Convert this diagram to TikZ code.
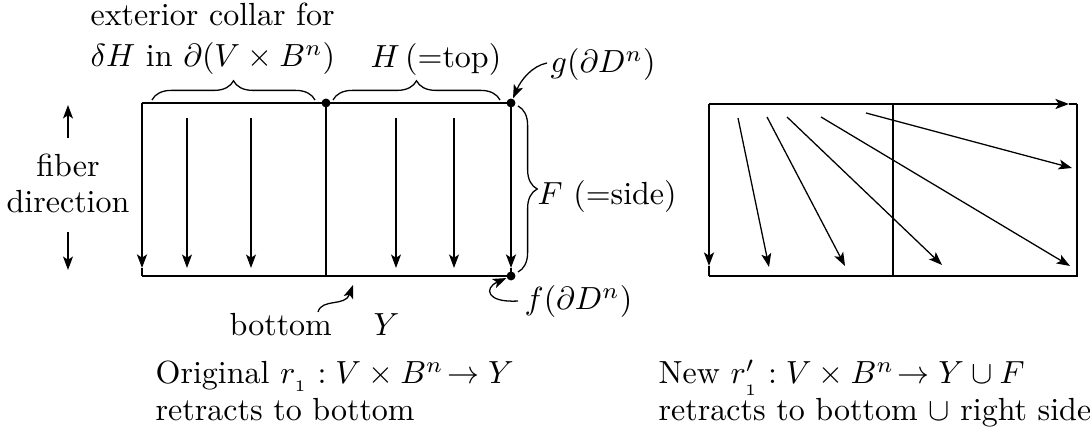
\documentclass[tikz,border=0pt]{standalone}
\usetikzlibrary{arrows.meta,decorations.pathreplacing}
\begin{document}
\begin{tikzpicture}[x=0.3125pt,y=-0.3125pt,
  frame/.style={line width=0.85pt},
  arr/.style={line width=0.4pt,-{Stealth[length=4.2pt,width=3.1pt,inset=1pt]}},
  farr/.style={line width=0.85pt,-{Stealth[length=4.2pt,width=3.1pt,inset=1pt]}},
  dot/.style={circle,fill,inner sep=0pt,minimum size=2.8pt},
  brc/.style={line width=0.4pt,decorate,decoration={brace,amplitude=#1}},
  lbl/.style={inner sep=0pt,anchor=base west}]
\useasboundingbox (0,0) rectangle (1090,439);
% left rectangle
\coordinate (A) at (142,103); \coordinate (B) at (326,103); \coordinate (C) at (511,103);
\coordinate (D) at (142,276); \coordinate (E) at (326,276); \coordinate (G) at (511,276);
\coordinate (Dt) at (142,268); \coordinate (Gt) at (511,268);
\draw[frame] (A) -- (C);
\draw[frame] (D) -- (G);
\draw[frame] (B) -- (E);
\draw[farr] (A) -- (Dt); \draw[frame] (Dt) -- (D);
\draw[farr] (C) -- (Gt); \draw[frame] (Gt) -- (G);
\foreach \x in {187,251,396,454}{
  \coordinate (s\x) at (\x,118); \coordinate (e\x) at (\x,268);
  \draw[arr] (s\x) -- (e\x);
}
\node[dot] (dB) at (B) {};
\node[dot] (dC) at (C) {};
\node[dot] (dG) at (G) {};
% braces
\coordinate (b1a) at (152,100); \coordinate (b1b) at (315,100);
\coordinate (b2a) at (333,100); \coordinate (b2b) at (500,100);
\coordinate (b3a) at (518,106); \coordinate (b3b) at (518,272);
\draw[brc=6pt] (b1a) -- (b1b);
\draw[brc=6pt] (b2a) -- (b2b);
\draw[brc=6pt] (b3a) -- (b3b);
% labels
\node[lbl] (ext1) at (90,26) {exterior collar for};
\node[lbl] (ext2) at (90,67) {$\delta H$ in $\partial(V\times B^n)$};
\node[lbl] (top) at (370,68) {$H\,$(=top)};
\node[lbl] (gl) at (550,73) {$g(\partial D^n)$};
\node[lbl] (Fl) at (537,205) {$F$ (=side)};
\node[lbl] (fl) at (524,310) {$f(\partial D^n)$};
\node[lbl] (bot) at (229,336) {bottom};
\node[lbl] (Yl) at (373,336) {$Y$};
\node[anchor=base,inner sep=0pt] (fib1) at (68,177) {fiber};
\node[anchor=base,inner sep=0pt] (fib2) at (68,213) {direction};
\coordinate (u1) at (68,138); \coordinate (u2) at (68,105);
\coordinate (d1) at (68,232); \coordinate (d2) at (68,270);
\draw[arr] (u1) -- (u2);
\draw[arr] (d1) -- (d2);
% curved pointers
\coordinate (gs) at (547,63);
\draw[arr] (gs) .. controls (532,66) and (521,80) .. (dC);
\coordinate (fs) at (518,301);
\draw[arr] (fs) .. controls (486,303) and (484,288) .. (dG);
\coordinate (bs) at (318,312); \coordinate (be) at (353,285);
\draw[arr] (bs) .. controls (322,298) and (345,307) .. (be);
% captions
\node[lbl] (c1) at (155,384) {Original $r_{_1}: V\times B^n\!\to Y$};
\node[lbl] (c2) at (155,421) {retracts to bottom};
\node[lbl] (c3) at (658,384) {New $r'_{_1}: V\times B^n\!\to Y\cup F$};
\node[lbl] (c4) at (658,421) {retracts to bottom $\cup$ right side};
% right rectangle
\coordinate (P1) at (709,104); \coordinate (P2) at (893,104); \coordinate (P3) at (1077,104);
\coordinate (P4) at (709,276); \coordinate (P5) at (893,276); \coordinate (P6) at (1077,276);
\coordinate (P1d) at (709,266); \coordinate (P1r) at (1069,104);
\draw[frame] (P3) -- (P6) -- (P4);
\draw[frame] (P2) -- (P5);
\draw[farr] (P1) -- (P1d); \draw[frame] (P1d) -- (P4);
\draw[farr] (P1) -- (P1r); \draw[frame] (P1r) -- (P3);
\coordinate (r1s) at (738,118); \coordinate (r1e) at (769,267);
\coordinate (r2s) at (767,117); \coordinate (r2e) at (845,266);
\coordinate (r3s) at (787,117); \coordinate (r3e) at (942,265);
\coordinate (r4s) at (821,117); \coordinate (r4e) at (1070,266);
\coordinate (r5s) at (866,113); \coordinate (r5e) at (1072,168);
\draw[arr] (r1s) -- (r1e);
\draw[arr] (r2s) -- (r2e);
\draw[arr] (r3s) -- (r3e);
\draw[arr] (r4s) -- (r4e);
\draw[arr] (r5s) -- (r5e);
\end{tikzpicture}
\end{document}
